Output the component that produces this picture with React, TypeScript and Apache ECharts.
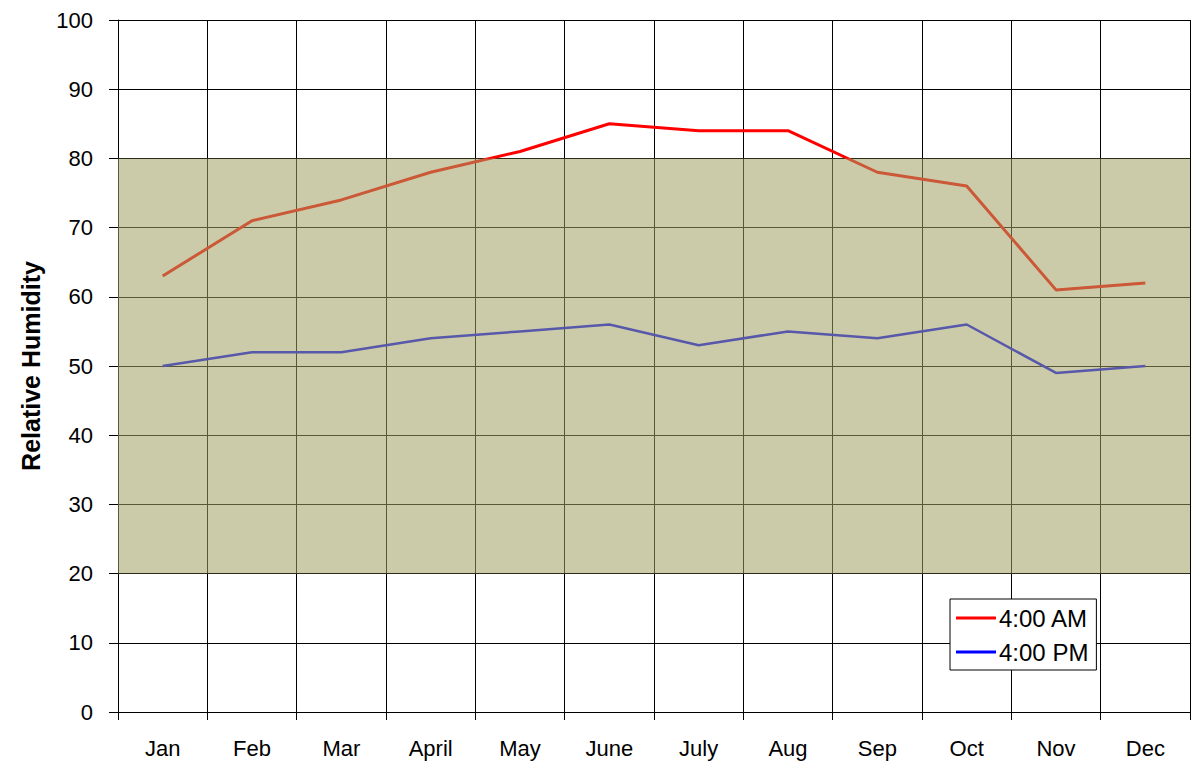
import React, { useEffect, useRef } from "react";
import * as echarts from "echarts";

const months = ["Jan", "Feb", "Mar", "April", "May", "June", "July", "Aug", "Sep", "Oct", "Nov", "Dec"];
const amValues = [63, 71, 74, 78, 81, 85, 84, 84, 78, 76, 61, 62];
const pmValues = [50, 52, 52, 54, 55, 56, 53, 55, 54, 56, 49, 50];
const bandRange = [20, 80];
const seriesNames = ["4:00 AM", "4:00 PM"];

export default function App() {
  const ref = useRef<HTMLDivElement>(null);
  useEffect(() => {
    if (!ref.current) return;
    const chart = echarts.init(ref.current, null, { renderer: "svg" });
    const font = "'Liberation Sans', Arial, sans-serif";
    chart.setOption({
      animation: false,
      backgroundColor: "#fff",
      grid: { left: 118, top: 20, right: 3, bottom: 53, show: false, containLabel: false, outerBoundsMode: "none" },
      legend: {
        data: seriesNames,
        orient: "vertical",
        left: 950,
        top: 599,
        backgroundColor: "#fff",
        borderColor: "#000",
        borderWidth: 1,
        borderRadius: 0,
        padding: [7, 8, 6, 6],
        itemGap: 10,
        itemWidth: 40,
        itemHeight: 3,
        icon: "rect",
        textStyle: { fontFamily: font, fontSize: 24, color: "#000", padding: [0, 0, 0, -2] },
      },
      xAxis: {
        type: "category",
        data: months,
        boundaryGap: true,
        axisLine: { lineStyle: { color: "#000", width: 1 } },
        axisTick: { show: true, inside: false, length: 8, lineStyle: { color: "#000" } },
        axisLabel: { fontFamily: font, fontSize: 22, color: "#000", margin: 25 },
        splitLine: { show: true, lineStyle: { color: "#000", width: 1 } },
      },
      yAxis: {
        type: "value",
        min: 0,
        max: 100,
        interval: 10,
        name: "Relative Humidity",
        nameLocation: "middle",
        nameGap: 75,
        nameTextStyle: { fontFamily: font, fontSize: 25, fontWeight: "bold", color: "#000" },
        axisLine: { show: true, lineStyle: { color: "#000", width: 1 } },
        axisTick: { show: true, length: 9, lineStyle: { color: "#000" } },
        axisLabel: { fontFamily: font, fontSize: 22, color: "#000", margin: 25 },
        splitLine: { show: true, lineStyle: { color: "#000", width: 1 } },
      },
      series: [
        {
          name: seriesNames[0],
          type: "line",
          data: amValues,
          symbol: "none",
          z: 2,
          lineStyle: { color: "#ff0000", width: 3 },
          itemStyle: { color: "#ff0000" },
        },
        {
          name: seriesNames[1],
          type: "line",
          data: pmValues,
          symbol: "none",
          z: 2,
          lineStyle: { color: "#0000ff", width: 2.5 },
          itemStyle: { color: "#0000ff" },
        },
        {
          name: "band",
          type: "line",
          data: [],
          z: 10,
          markArea: {
            silent: true,
            z: 10,
            itemStyle: { color: "rgba(160,160,100,0.55)" },
            label: { show: false },
            data: [[{ yAxis: bandRange[0] }, { yAxis: bandRange[1] }]],
          },
        },
      ],
    });
    return () => chart.dispose();
  }, []);
  return <div ref={ref} style={{ width: 1193, height: 765, position: "absolute", left: 0, top: 0 }} />;
}
